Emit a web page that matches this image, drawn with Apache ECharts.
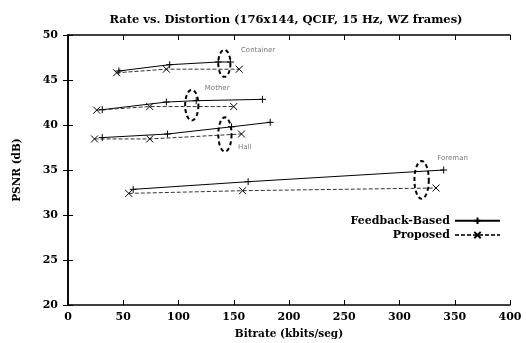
<!DOCTYPE html>
<html>
<head>
<meta charset="utf-8">
<script src="https://cdn.jsdelivr.net/npm/echarts@6/dist/echarts.min.js"></script>
<style>
  html, body { margin: 0; padding: 0; background: #fff; }
  #chart { width: 526px; height: 343px; }
</style>
</head>
<body>
<div id="chart"></div>
<script>
// bitrate (kbits/seg), PSNR (dB)
const containerFb = [[46, 46.0], [92, 46.7], [136, 47.0], [147, 47.0]];
const containerPr = [[44, 45.8], [89, 46.2], [155, 46.2]];
const motherFb = [[31, 41.7], [89, 42.55], [116, 42.7], [176, 42.85]];
const motherPr = [[26, 41.65], [74, 42.05], [150, 42.05]];
const hallFb = [[31, 38.6], [90, 39.0], [148, 39.8], [183, 40.3]];
const hallPr = [[24, 38.45], [74, 38.45], [157, 39.0]];
const foremanFb = [[59, 32.85], [163, 33.7], [340, 35.0]];
const foremanPr = [[55, 32.4], [158, 32.7], [333, 33.0]];

// dashed ellipses: centre x, centre y, radius x, radius y
const ellipses = [[141.5, 46.85, 5.5, 1.5], [112, 42.2, 6, 1.7], [142, 38.95, 6, 1.9], [320, 33.9, 6.5, 2.1]];

const seqNames = ['Container', 'Mother', 'Hall', 'Foreman'];
const seqLabelPos = [[172, 48.3], [135, 44.1], [160, 37.5], [348, 36.3]];

const xTicks = [0, 400, 50];
const yTicks = [20, 50, 5];

const serif = 'DejaVu Serif';
const plus = 'path://M0,5L10,5M5,0L5,10';
const cross = 'path://M0,0L10,10M10,0L0,10';

function fbSeries(data) {
  return {
    name: 'Feedback-Based', type: 'line', data: data,
    symbol: plus, symbolSize: 7, showSymbol: true,
    lineStyle: { color: '#000', width: 1 },
    itemStyle: { color: 'none', borderColor: '#000', borderWidth: 1 },
    animation: false, z: 3
  };
}
function prSeries(data) {
  return {
    name: 'Proposed', type: 'line', data: data,
    symbol: cross, symbolSize: 7,
    lineStyle: { color: '#333', width: 1, type: [4, 2] },
    itemStyle: { color: 'none', borderColor: '#000', borderWidth: 1 },
    animation: false, z: 3
  };
}

const chart = echarts.init(document.getElementById('chart'));

const axisCommon = {
  type: 'value',
  axisLine: { show: true, lineStyle: { color: '#000', width: 1.5 } },
  axisTick: { show: true, inside: true, length: 5, lineStyle: { color: '#000' } },
  splitLine: { show: false }
};
const boldText = { fontFamily: serif, fontWeight: 'bold', color: '#000' };

chart.setOption({
  animation: false,
  title: {
    text: 'Rate vs. Distortion (176x144, QCIF, 15 Hz, WZ frames)',
    left: 281, top: 9, textAlign: 'center',
    textStyle: Object.assign({ fontSize: 11.5 }, boldText)
  },
  grid: { left: 68, right: 16, top: 35, bottom: 38, outerBoundsMode: 'none' },
  legend: {
    orient: 'vertical', right: 20, top: 210, align: 'right',
    itemWidth: 45, itemHeight: 8, itemGap: 3,
    data: ['Feedback-Based', 'Proposed'],
    textStyle: Object.assign({ fontSize: 11 }, boldText)
  },
  xAxis: [
    Object.assign({}, axisCommon, {
      min: xTicks[0], max: xTicks[1], interval: xTicks[2],
      name: 'Bitrate (kbits/seg)', nameLocation: 'middle', nameGap: 24,
      nameTextStyle: Object.assign({ fontSize: 10.5 }, boldText),
      axisLabel: Object.assign({ fontSize: 11, margin: 7 }, boldText)
    }),
    Object.assign({}, axisCommon, {
      position: 'top', min: xTicks[0], max: xTicks[1], interval: xTicks[2],
      axisLabel: { show: false }
    })
  ],
  yAxis: [
    Object.assign({}, axisCommon, {
      min: yTicks[0], max: yTicks[1], interval: yTicks[2],
      name: 'PSNR (dB)', nameLocation: 'middle', nameGap: 45,
      nameTextStyle: Object.assign({ fontSize: 10.5 }, boldText),
      axisLabel: Object.assign({ fontSize: 11, margin: 10 }, boldText)
    }),
    Object.assign({}, axisCommon, {
      position: 'right', min: yTicks[0], max: yTicks[1], interval: yTicks[2],
      axisLabel: { show: false }
    })
  ],
  series: [
    fbSeries(containerFb), prSeries(containerPr),
    fbSeries(motherFb), prSeries(motherPr),
    fbSeries(hallFb), prSeries(hallPr),
    fbSeries(foremanFb), prSeries(foremanPr),
    {
      type: 'custom', data: ellipses, silent: true, z: 4,
      renderItem: function (params, api) {
        const c = api.coord([api.value(0), api.value(1)]);
        const s = api.size([api.value(2), api.value(3)]);
        const pts = [];
        for (let i = 0; i <= 48; i++) {
          const a = (i / 48) * Math.PI * 2;
          pts.push([c[0] + s[0] * Math.cos(a), c[1] + s[1] * Math.sin(a)]);
        }
        return {
          type: 'polyline',
          shape: { points: pts },
          style: { stroke: '#000', lineWidth: 2, lineDash: [4, 3], fill: null }
        };
      }
    },
    {
      type: 'scatter', symbolSize: 0, silent: true,
      data: seqNames.map((n, i) => ({ name: n, value: seqLabelPos[i] })),
      label: {
        show: true, position: 'inside', formatter: '{b}',
        fontFamily: 'DejaVu Sans', fontSize: 7, color: '#555'
      }
    }
  ]
});
</script>
</body>
</html>
